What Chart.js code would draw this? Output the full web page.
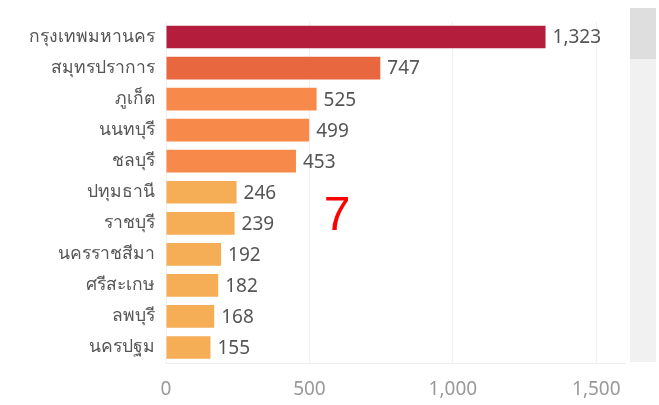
<!DOCTYPE html>
<html lang="th">
<head>
  <meta charset="UTF-8">
  <title>จำนวนผู้ป่วยรายจังหวัด</title>
  <script src="https://cdn.jsdelivr.net/npm/chart.js"></script>
  <style>
    html, body { margin: 0; padding: 0; background: #fff; }
    #wrap { position: relative; width: 659px; height: 405px; }
    #scrollTrack { position: absolute; left: 630px; top: 8px; width: 26px; height: 354px; background: #f1f1f1; }
    #scrollThumb { position: absolute; left: 630px; top: 8px; width: 26px; height: 51px; background: #dedede; }
    #bigNum { position: absolute; left: 316px; top: 186px; width: 42px; text-align: center;
              font-family: "Liberation Sans", Arial, sans-serif; font-size: 48px; line-height: 56px; color: #ff0000; }
  </style>
</head>
<body>
  <div id="wrap">
    <canvas id="provChart" width="659" height="405"></canvas>
    <div id="scrollTrack"></div>
    <div id="scrollThumb"></div>
    <div id="bigNum">7</div>
  </div>

  <script>
    const provinces = ["กรุงเทพมหานคร", "สมุทรปราการ", "ภูเก็ต", "นนทบุรี", "ชลบุรี",
                       "ปทุมธานี", "ราชบุรี", "นครราชสีมา", "ศรีสะเกษ", "ลพบุรี", "นครปฐม"];
    const cases = [1323, 747, 525, 499, 453, 246, 239, 192, 182, 168, 155];
    const barColors = ["#b41e3c", "#e8673f", "#f78a4a", "#f78a4a", "#f78a4a",
                       "#f5ae55", "#f5ae55", "#f5ae55", "#f5ae55", "#f5ae55", "#f5ae55"];
    const xTicks = [0, 500, 1000, 1500];

    const font = '"Noto Sans", "Open Sans", sans-serif';

    // value labels after each bar
    const valueLabels = {
      id: 'valueLabels',
      afterDatasetsDraw(chart) {
        const ctx = chart.ctx;
        const meta = chart.getDatasetMeta(0);
        ctx.save();
        ctx.font = '19px ' + font;
        ctx.fillStyle = '#555';
        ctx.textAlign = 'left';
        ctx.textBaseline = 'middle';
        meta.data.forEach((bar, i) => {
          ctx.fillText(cases[i].toLocaleString('en-US'), bar.x + 7, bar.y + 1);
        });
        ctx.restore();
      }
    };

    new Chart(document.getElementById('provChart'), {
      type: 'bar',
      data: {
        labels: provinces,
        datasets: [{
          data: cases,
          backgroundColor: barColors,
          barPercentage: 0.73,
          categoryPercentage: 1
        }]
      },
      options: {
        indexAxis: 'y',
        responsive: false,
        animation: false,
        layout: { padding: { top: 8, right: 34, left: 0, bottom: 0 } },
        plugins: { legend: { display: false }, tooltip: { enabled: false } },
        scales: {
          x: {
            min: 0,
            max: 1600,
            afterBuildTicks: scale => { scale.ticks = xTicks.map(v => ({ value: v })); },
            afterFit: scale => { scale.height = 42; },
            grid: { color: '#f0f0f0', drawTicks: false },
            border: { color: '#ececec' },
            ticks: {
              padding: 15,
              color: '#999',
              font: { family: font, size: 19 },
              callback: v => v.toLocaleString('en-US')
            }
          },
          y: {
            afterFit: scale => { scale.width = 166; },
            grid: { display: false, drawTicks: false },
            border: { display: false },
            ticks: {
              padding: 11,
              color: '#555',
              font: { family: font, size: 17.5 }
            }
          }
        }
      },
      plugins: [valueLabels]
    });
  </script>
</body>
</html>
